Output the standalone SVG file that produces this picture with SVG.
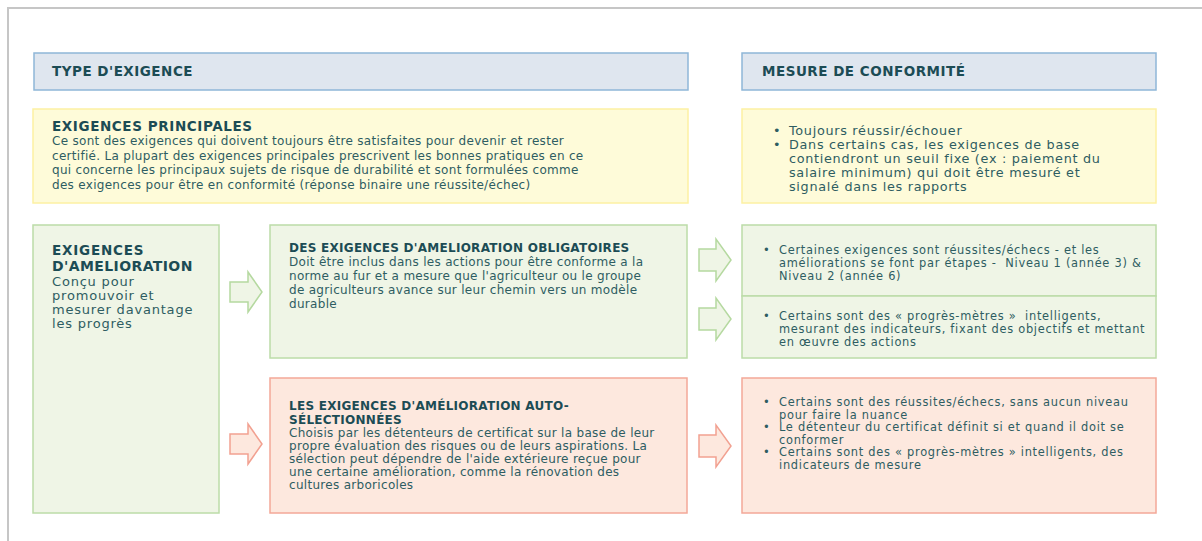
<svg xmlns="http://www.w3.org/2000/svg" width="1202" height="541" viewBox="0 0 1202 541">
<style>
.hdr{fill:#dfe6ef;stroke:#8fb6d8;stroke-width:1.5}
.yel{fill:#fefbd9;stroke:#fdf1a3;stroke-width:1.5}
.grn{fill:#eff5e6;stroke:#bcdca8;stroke-width:1.5}
.red{fill:#fde8de;stroke:#f3a898;stroke-width:1.5}
.ag{fill:#eff5e6;stroke:#b5d9a0;stroke-width:1.5}
.ar{fill:#fde8de;stroke:#f2a191;stroke-width:1.5}
text{font-family:"DejaVu Sans","Liberation Sans",sans-serif;fill:#2e5d62}
.h{font-weight:bold;font-size:13.5px;letter-spacing:0.5px;fill:#1c4c55}
.t{font-weight:bold;font-size:13.5px;letter-spacing:0.6px;fill:#1c4c55}
.ts{font-weight:bold;font-size:12px;letter-spacing:0.27px;fill:#1c4c55}
.b{font-size:12px;letter-spacing:0.3px}
.by{font-size:12.8px;letter-spacing:0.7px}
.bl{font-size:13px;letter-spacing:0.8px}
.s{font-size:11.4px;letter-spacing:0.72px}
</style>
<rect x="8" y="8" width="1200" height="540" fill="#ffffff" stroke="#c6c6c6" stroke-width="2"/>

<g id="hdr-type">
<rect class="hdr" x="34" y="53" width="654" height="37"/>
<text class="h" x="52" y="76">TYPE D'EXIGENCE</text>
</g>
<g id="hdr-mesure">
<rect class="hdr" x="742" y="53" width="414" height="37"/>
<text class="h" x="762" y="76">MESURE DE CONFORMITÉ</text>
</g>

<g id="principales">
<rect class="yel" x="33" y="109" width="655" height="94"/>
<text class="t" x="52" y="131">EXIGENCES PRINCIPALES</text>
<text class="b" x="52" y="145">Ce sont des exigences qui doivent toujours être satisfaites pour devenir et rester</text>
<text class="b" x="52" y="159.5">certifié. La plupart des exigences principales prescrivent les bonnes pratiques en ce</text>
<text class="b" x="52" y="174">qui concerne les principaux sujets de risque de durabilité et sont formulées comme</text>
<text class="b" x="52" y="188.5">des exigences pour être en conformité (réponse binaire une réussite/échec)</text>
</g>

<g id="principales-mesure">
<rect class="yel" x="742" y="109" width="414" height="94"/>
<text class="by" x="773" y="135">•</text>
<text class="by" x="789" y="135">Toujours réussir/échouer</text>
<text class="by" x="773" y="149">•</text>
<text class="by" x="789" y="149">Dans certains cas, les exigences de base</text>
<text class="by" x="789" y="163">contiendront un seuil fixe (ex : paiement du</text>
<text class="by" x="789" y="177">salaire minimum) qui doit être mesuré et</text>
<text class="by" x="789" y="191">signalé dans les rapports</text>
</g>

<g id="amelioration">
<rect class="grn" x="33" y="225" width="186" height="288"/>
<text class="t" x="52" y="255" style="letter-spacing:0.8px">EXIGENCES</text>
<text class="t" x="52" y="271" style="font-size:14px;letter-spacing:0.4px">D'AMELIORATION</text>
<text class="bl" x="52" y="285.5">Conçu pour</text>
<text class="bl" x="52" y="299.5">promouvoir et</text>
<text class="bl" x="52" y="313.5">mesurer davantage</text>
<text class="bl" x="52" y="327.5">les progrès</text>
</g>

<g id="obligatoires">
<rect class="grn" x="270" y="225" width="417" height="133"/>
<text class="ts" x="289" y="252">DES EXIGENCES D'AMELIORATION OBLIGATOIRES</text>
<text class="b" x="289" y="266">Doit être inclus dans les actions pour être conforme a la</text>
<text class="b" x="289" y="280">norme au fur et a mesure que l'agriculteur ou le groupe</text>
<text class="b" x="289" y="294">de agriculteurs avance sur leur chemin vers un modèle</text>
<text class="b" x="289" y="308">durable</text>
</g>

<g id="obligatoires-mesure-1">
<rect class="grn" x="742" y="225" width="414" height="71"/>
<text class="s" x="763" y="254">•</text>
<text class="s" x="779" y="254">Certaines exigences sont réussites/échecs - et les</text>
<text class="s" x="779" y="267">améliorations se font par étapes -&#160; Niveau 1 (année 3) &amp;</text>
<text class="s" x="779" y="280">Niveau 2 (année 6)</text>
</g>

<g id="obligatoires-mesure-2">
<rect class="grn" x="742" y="296" width="414" height="62"/>
<text class="s" x="763" y="320">•</text>
<text class="s" x="779" y="320">Certains sont des « progrès-mètres »&#160; intelligents,</text>
<text class="s" x="779" y="333">mesurant des indicateurs, fixant des objectifs et mettant</text>
<text class="s" x="779" y="346">en œuvre des actions</text>
</g>

<g id="auto">
<rect class="red" x="270" y="378" width="417" height="135"/>
<text class="ts" x="289" y="410">LES EXIGENCES D'AMÉLIORATION AUTO-</text>
<text class="ts" x="289" y="423.5">SÉLECTIONNÉES</text>
<text class="b" x="289" y="437">Choisis par les détenteurs de certificat sur la base de leur</text>
<text class="b" x="289" y="450">propre évaluation des risques ou de leurs aspirations. La</text>
<text class="b" x="289" y="463">sélection peut dépendre de l'aide extérieure reçue pour</text>
<text class="b" x="289" y="476">une certaine amélioration, comme la rénovation des</text>
<text class="b" x="289" y="489">cultures arboricoles</text>
</g>

<g id="auto-mesure">
<rect class="red" x="742" y="378" width="414" height="135"/>
<text class="s" x="763" y="406">•</text>
<text class="s" x="779" y="406">Certains sont des réussites/échecs, sans aucun niveau</text>
<text class="s" x="779" y="418.5">pour faire la nuance</text>
<text class="s" x="763" y="431">•</text>
<text class="s" x="779" y="431">Le détenteur du certificat définit si et quand il doit se</text>
<text class="s" x="779" y="443.5">conformer</text>
<text class="s" x="763" y="456">•</text>
<text class="s" x="779" y="456">Certains sont des « progrès-mètres » intelligents, des</text>
<text class="s" x="779" y="468.5">indicateurs de mesure</text>
</g>

<g id="connectors">
<path class="ag" d="M230,282 H248 V272 L262,292 L248,312 V302 H230 Z"/>
<path class="ar" d="M230,434 H248 V424 L262,444 L248,464 V454 H230 Z"/>
<path class="ag" d="M699,249 H716 V239 L731,260 L716,281 V271 H699 Z"/>
<path class="ag" d="M699,308 H716 V298 L731,319 L716,340 V330 H699 Z"/>
<path class="ar" d="M699,435 H716 V425 L731,446 L716,467 V457 H699 Z"/>
</g>
</svg>
